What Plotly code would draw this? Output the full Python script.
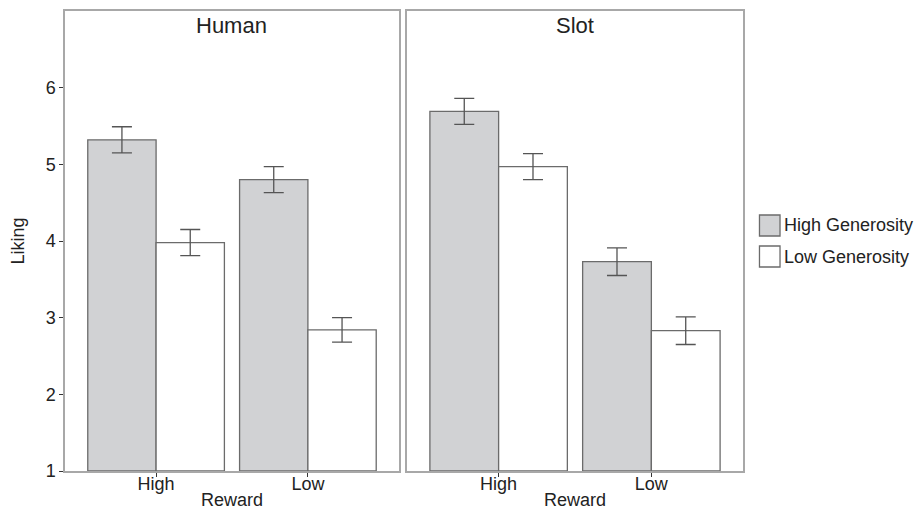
import plotly.graph_objects as go

rewards = ["High", "Low"]
panels = ["Human", "Slot"]
series = ["High Generosity", "Low Generosity"]

# bar heights (Liking means)
human_high_gen = [5.32, 4.80]
human_low_gen = [3.98, 2.84]
slot_high_gen = [5.69, 3.73]
slot_low_gen = [4.97, 2.83]

# error bar half-widths
human_high_gen_err = [0.17, 0.17]
human_low_gen_err = [0.17, 0.16]
slot_high_gen_err = [0.17, 0.18]
slot_low_gen_err = [0.17, 0.18]

fills = {"High Generosity": "#d1d2d4", "Low Generosity": "#ffffff"}
outline = "#6b6b6b"
errcol = "#555555"

data = {
    "Human": {"High Generosity": (human_high_gen, human_high_gen_err),
              "Low Generosity": (human_low_gen, human_low_gen_err)},
    "Slot": {"High Generosity": (slot_high_gen, slot_high_gen_err),
             "Low Generosity": (slot_low_gen, slot_low_gen_err)},
}

fig = go.Figure()
for pi, panel in enumerate(panels):
    xa = "x" if pi == 0 else "x2"
    ya = "y" if pi == 0 else "y2"
    for s in series:
        vals, errs = data[panel][s]
        fig.add_trace(go.Bar(
            x=rewards, y=[v - 1 for v in vals], base=1,
            name=s, showlegend=False,
            marker=dict(color=fills[s], line=dict(color=outline, width=1.3)),
            error_y=dict(type="data", array=errs, color=errcol, thickness=1.3, width=10),
            xaxis=xa, yaxis=ya,
            offsetgroup=s,
        ))

font_family = "Liberation Sans, Arial, sans-serif"
txt = "#222222"
axis_common = dict(
    showline=True, mirror=True, linecolor="#a8a8a8", linewidth=1.5,
    ticks="outside", ticklen=4, tickcolor="#333333", tickwidth=1.2,
    tickfont=dict(size=18, color=txt, family=font_family),
    showgrid=False, zeroline=False, automargin=False,
)

panel_centers = [0.2463, 0.7522]
shapes = []
annotations = []
for name, cx in zip(panels, panel_centers):
    annotations.append(dict(text=name, x=cx, y=1, xref="paper", yref="paper",
                            xanchor="center", yanchor="top",
                            yshift=0, showarrow=False, font=dict(size=22, color=txt)))
    annotations.append(dict(text="Reward", x=cx, y=-0.063, xref="paper", yref="paper",
                            xanchor="center", yanchor="middle", showarrow=False,
                            font=dict(size=18, color=txt)))

# legend drawn as boxes + labels in paper coordinates
leg_y = [(0.5565, 0.5109), (0.4891, 0.4435)]
for s, (y1, y0) in zip(series, leg_y):
    shapes.append(dict(type="rect", xref="paper", yref="paper",
                       x0=1.0243, x1=1.0546, y0=y0, y1=y1,
                       fillcolor=fills[s], line=dict(color=outline, width=1.3)))
    annotations.append(dict(text=s, x=1.057, y=(y0 + y1) / 2, xref="paper", yref="paper",
                            xanchor="left", yanchor="middle", showarrow=False,
                            font=dict(size=18, color=txt)))

fig.update_layout(
    width=917, height=513,
    margin=dict(l=65, r=174, t=11, b=42),
    paper_bgcolor="white", plot_bgcolor="white",
    barmode="group", bargap=0.1, bargroupgap=0,
    font=dict(family=font_family, color=txt),
    showlegend=False,
    xaxis=dict(domain=[0, 0.4926], range=[-0.6, 1.6], type="category",
               ticklabelstandoff=-8, **axis_common),
    xaxis2=dict(domain=[0.5044, 1], range=[-0.6, 1.6], type="category", anchor="y2",
                ticklabelstandoff=-8, **axis_common),
    yaxis=dict(range=[1, 7], tickvals=[1, 2, 3, 4, 5, 6],
               title=dict(text="Liking", font=dict(size=18), standoff=16), **axis_common),
    yaxis2=dict(range=[1, 7], anchor="x2", showticklabels=False,
                **{k: v for k, v in axis_common.items() if k != "ticks"}, ticks=""),
    shapes=shapes,
    annotations=annotations,
)

fig.write_html("out.html")
